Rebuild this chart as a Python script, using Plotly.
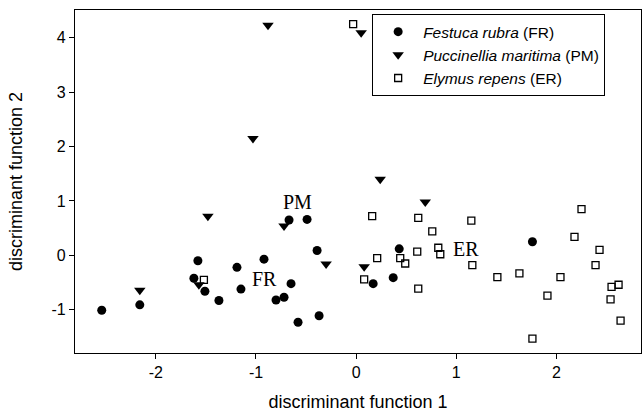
import plotly.graph_objects as go

# Festuca rubra (FR)
fr_x = [-2.54, -2.16, -1.58, -1.62, -1.51, -1.37, -1.19, -1.15, -0.92, -0.67, -0.49,
        -0.39, -0.65, -0.80, -0.72, -0.58, -0.37, 0.17, 0.37, 0.43, 1.76]
fr_y = [-1.01, -0.91, -0.10, -0.42, -0.66, -0.83, -0.22, -0.62, -0.07, 0.65, 0.66,
        0.09, -0.52, -0.82, -0.77, -1.23, -1.11, -0.52, -0.41, 0.12, 0.25]

# Puccinellia maritima (PM)
pm_x = [-0.88, -1.03, 0.05, 0.24, 0.69, 0.08, -1.48, -0.72, -0.30, -2.16, -1.57]
pm_y = [4.23, 2.15, 4.09, 1.40, 0.98, -0.21, 0.72, 0.54, -0.16, -0.64, -0.54]

# Elymus repens (ER)
er_x = [-0.03, -1.52, 0.16, 0.62, 1.15, 0.76, 0.21, 0.44, 0.49, 0.61, 0.82, 0.84,
        1.16, 0.08, 0.62, 1.41, 1.63, 2.04, 1.91, 1.76, 2.25, 2.18, 2.43, 2.39,
        2.55, 2.62, 2.54, 2.64]
er_y = [4.25, -0.45, 0.72, 0.69, 0.64, 0.44, -0.05, -0.05, -0.15, 0.07, 0.14, 0.02,
        -0.18, -0.44, -0.61, -0.40, -0.33, -0.40, -0.74, -1.53, 0.85, 0.34, 0.10, -0.18,
        -0.58, -0.54, -0.81, -1.20]

group_labels = ["FR", "PM", "ER"]
label_x = [-0.92, -0.59, 1.10]
label_y = [-0.43, 0.98, 0.11]

x_ticks = [-2, -1, 0, 1, 2]
x_tick_labels = ["-2", "-1", "0", "1", "2"]
y_ticks = [-1, 0, 1, 2, 3, 4]
y_tick_labels = ["-1", "0", "1", "2", "3", "4"]

fig = go.Figure()
fig.add_trace(go.Scatter(
    x=fr_x, y=fr_y, mode="markers", name="<i>Festuca rubra</i> (FR)",
    marker=dict(symbol="circle", size=9, color="black", line=dict(width=0))))
fig.add_trace(go.Scatter(
    x=pm_x, y=pm_y, mode="markers", name="<i>Puccinellia maritima</i> (PM)",
    marker=dict(symbol="triangle-down", size=10, color="black", line=dict(width=0))))
fig.add_trace(go.Scatter(
    x=er_x, y=er_y, mode="markers", name="<i>Elymus repens</i> (ER)",
    marker=dict(symbol="square-open", size=7, color="black", line=dict(width=1.3, color="black"))))

for t, lx, ly in zip(group_labels, label_x, label_y):
    fig.add_annotation(x=lx, y=ly, text=t, showarrow=False,
                       font=dict(family="Liberation Serif", size=20, color="black"))

axis_common = dict(showline=True, linecolor="black", linewidth=1.3, mirror=True,
                   ticks="outside", ticklen=5, tickcolor="black", tickwidth=1.3,
                   showgrid=False, zeroline=False,
                   tickfont=dict(family="Liberation Sans", size=16, color="black"))

fig.update_xaxes(range=[-2.807, 2.844], tickvals=x_ticks, ticktext=x_tick_labels,
                 title=dict(text="discriminant function 1",
                            font=dict(family="Liberation Sans", size=18, color="black"),
                            standoff=15),
                 **axis_common)
fig.update_yaxes(range=[-1.795, 4.51], tickvals=y_ticks, ticktext=y_tick_labels,
                 title=dict(text="discriminant function 2",
                            font=dict(family="Liberation Sans", size=18, color="black"),
                            standoff=24),
                 **axis_common)

fig.update_layout(
    width=642, height=414,
    margin=dict(l=75, r=1, t=10, b=61),
    plot_bgcolor="white", paper_bgcolor="white",
    legend=dict(x=0.525, y=0.988, xanchor="left", yanchor="top",
                bordercolor="black", borderwidth=1, bgcolor="white",
                font=dict(family="Liberation Sans", size=15.5, color="black"),
                itemwidth=40, tracegroupgap=0),
)

fig.write_html("out.html")
